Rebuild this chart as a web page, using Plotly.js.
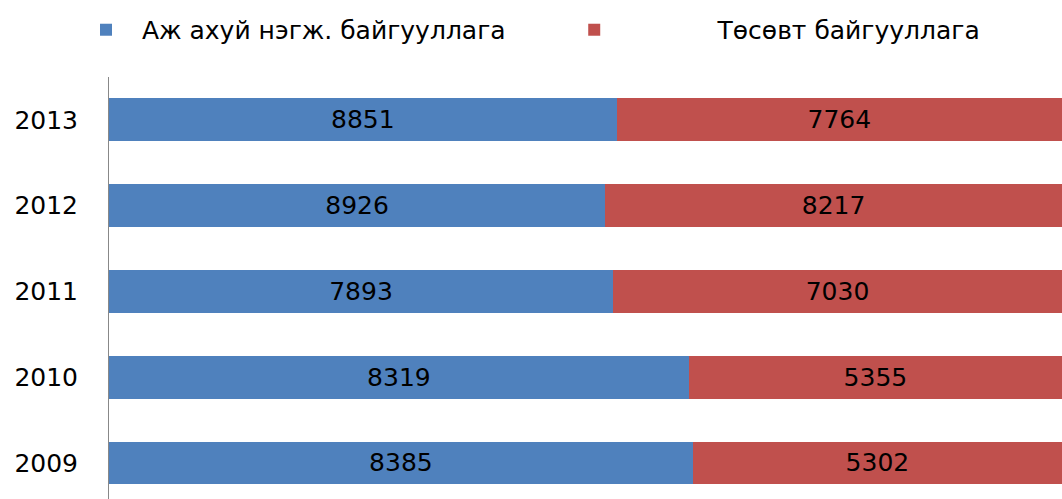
<!DOCTYPE html>
<html><head><meta charset="utf-8">
<script src="https://cdn.plot.ly/plotly-3.0.1.min.js"></script>
<style>html,body{margin:0;padding:0;background:#fff}</style>
</head><body><div id="chart" style="width:1062px;height:499px"></div>
<script>
const years = ["2009","2010","2011","2012","2013"];
const enterprises = [8385, 8319, 7893, 8926, 8851];
const budget = [5302, 5355, 7030, 8217, 7764];
const seriesNames = ["Аж ахуй нэгж. байгууллага", "Төсөвт байгууллага"];
const colors = ["#4F81BD", "#C0504D"];

const font = "DejaVu Sans, Arial, sans-serif";
const nb = n => "\u00a0".repeat(n);
const legendNames = [nb(2) + seriesNames[0] + nb(8), nb(13) + seriesNames[1]];
const traces = [enterprises, budget].map((vals, i) => ({
  type: "bar", orientation: "h",
  y: years, x: vals, text: vals.map(String), texttemplate: "%{text}",
  name: legendNames[i],
  marker: {color: colors[i]},
  textposition: "inside", insidetextanchor: "middle",
  textfont: {color: "#000", size: 25, family: font},
  width: 0.5, hoverinfo: "none"
}));

Plotly.newPlot("chart", traces, {
  width: 1062, height: 499,
  barmode: "stack", barnorm: "percent",
  margin: {l: 109, r: 0, t: 77, b: 0, autoexpand: false},
  paper_bgcolor: "#fff", plot_bgcolor: "#fff",
  showlegend: true,
  legend: {orientation: "h", x: 0.081, xanchor: "left", xref: "container",
    y: 0.986, yanchor: "top", yref: "container",
    font: {size: 25, family: font, color: "#000"}, traceorder: "normal"},
  xaxis: {range: [0, 100], visible: false, fixedrange: true},
  yaxis: {type: "category", categoryorder: "array", categoryarray: years,
    range: [-0.42, 4.5], showline: true, linecolor: "#888", linewidth: 1,
    showgrid: false, zeroline: false, ticks: "", ticklabelstandoff: 25,
    tickfont: {size: 25, family: font, color: "#000"}}
}, {displayModeBar: false, staticPlot: true});
</script></body></html>
